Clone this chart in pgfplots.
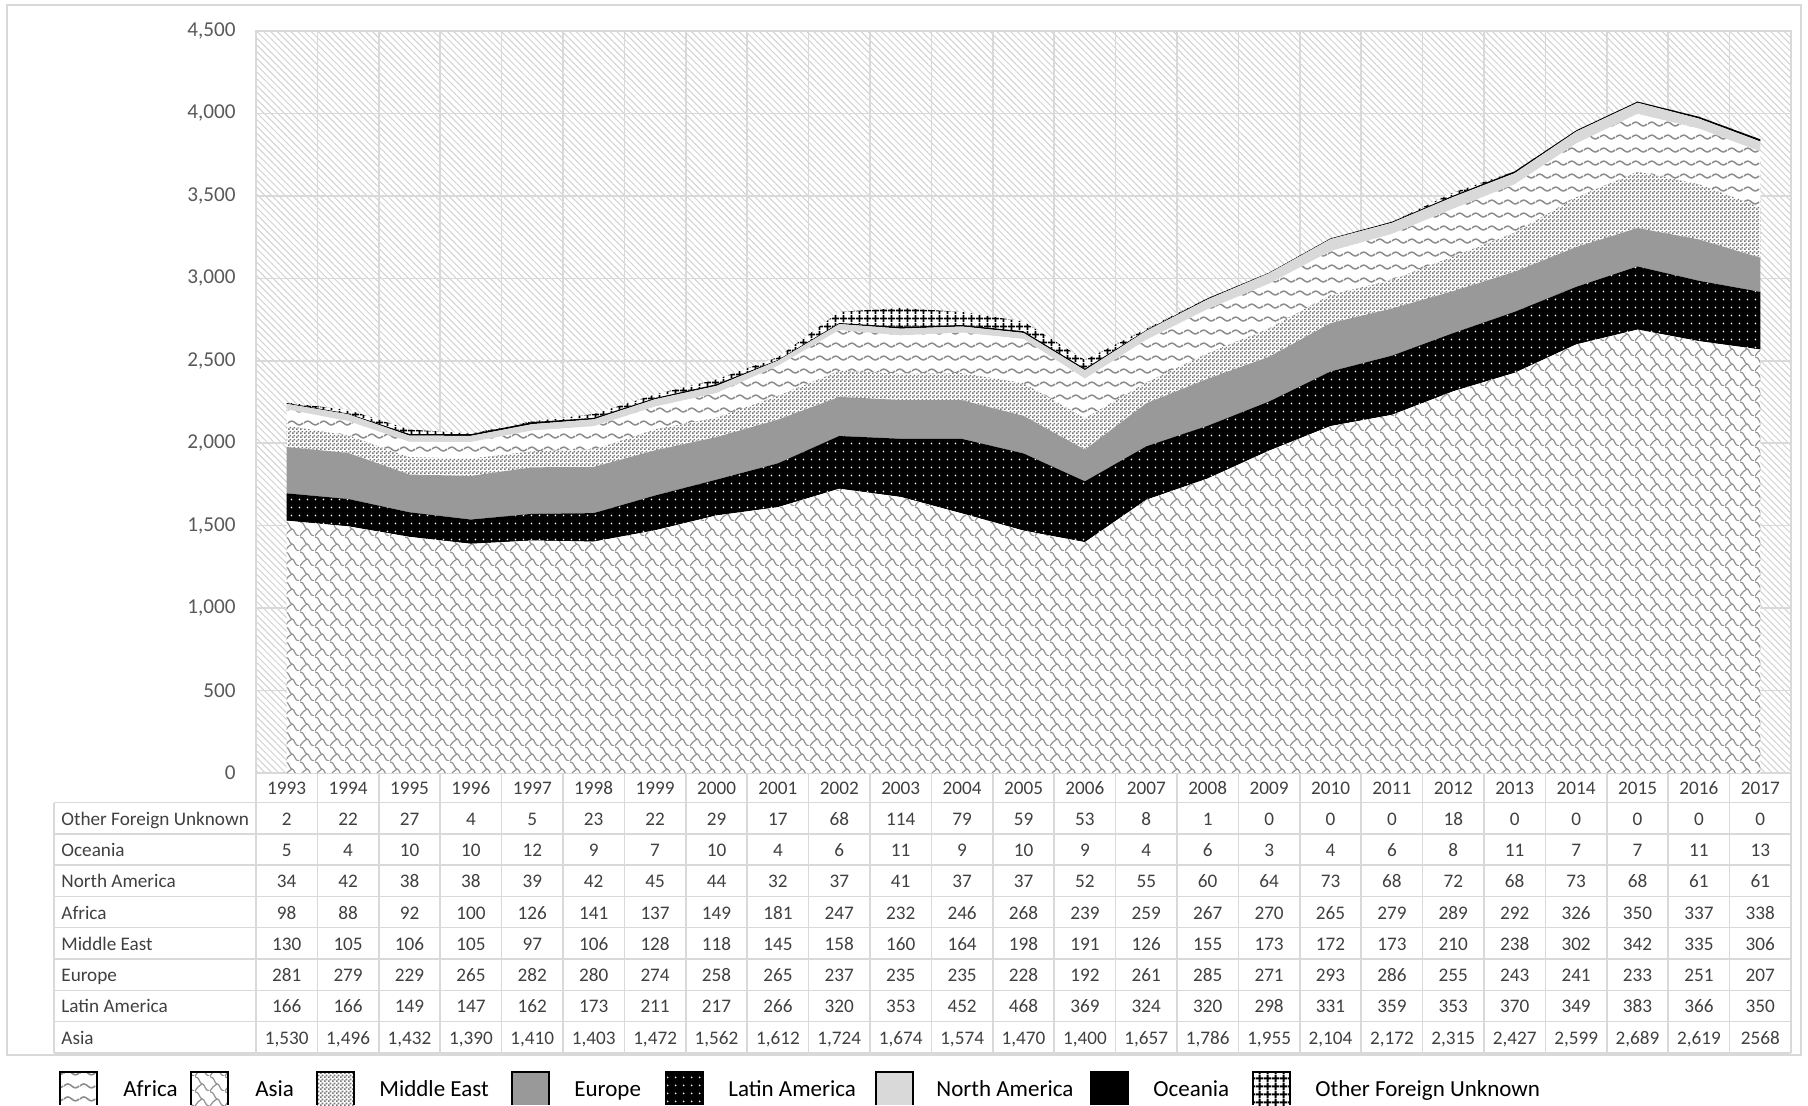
\documentclass[border=0pt]{standalone}
\usepackage{fontspec}
\setmainfont{Carlito}
\usepackage{pgfplots}
\usepackage{pgfplotstable}
\pgfplotsset{compat=1.18}
\usetikzlibrary{patterns,patterns.meta}

\definecolor{gridgray}{HTML}{D9D9D9}
\definecolor{tickgray}{HTML}{595959}
\definecolor{textgray}{HTML}{404040}
\definecolor{hatchgray}{HTML}{D2D2D2}

% Arrivals by region of origin, 1993-2017
\pgfplotstableread{
year Asia LatAm Europe MidEast Africa NorthAm Oceania Other
1993 1530 166 281 130  98 34  5   2
1994 1496 166 279 105  88 42  4  22
1995 1432 149 229 106  92 38 10  27
1996 1390 147 265 105 100 38 10   4
1997 1410 162 282  97 126 39 12   5
1998 1403 173 280 106 141 42  9  23
1999 1472 211 274 128 137 45  7  22
2000 1562 217 258 118 149 44 10  29
2001 1612 266 265 145 181 32  4  17
2002 1724 320 237 158 247 37  6  68
2003 1674 353 235 160 232 41 11 114
2004 1574 452 235 164 246 37  9  79
2005 1470 468 228 198 268 37 10  59
2006 1400 369 192 191 239 52  9  53
2007 1657 324 261 126 259 55  4   8
2008 1786 320 285 155 267 60  6   1
2009 1955 298 271 173 270 64  3   0
2010 2104 331 293 172 265 73  4   0
2011 2172 359 286 173 279 68  6   0
2012 2315 353 255 210 289 72  8  18
2013 2427 370 243 238 292 68 11   0
2014 2599 349 241 302 326 73  7   0
2015 2689 383 233 342 350 68  7   0
2016 2619 366 251 335 337 61 11   0
2017 2568 350 207 306 338 61 13   0
}\arrivals

% Fill patterns
\tikzdeclarepattern{
  name=shingle, type=uncolored,
  bounding box={(0,0) and (7.5pt,7.5pt)},
  tile size={(7.5pt,7.5pt)},
  code={
    \draw[line width=0.65pt] (0,7.5pt) .. controls (2.5pt,7.5pt) and (2.2pt,3.75pt) .. (3.75pt,3.75pt)
      .. controls (5.3pt,3.75pt) and (5pt,0pt) .. (7.5pt,0pt);
    \draw[line width=0.65pt] (0,0) .. controls (1.2pt,1.8pt) and (2.2pt,3pt) .. (3.75pt,3.75pt);
  }
}
\tikzdeclarepattern{
  name=wave, type=uncolored,
  bounding box={(0,0) and (8pt,6.25pt)},
  tile size={(8pt,6.25pt)},
  code={
    \draw[line width=0.8pt] (0,3.1pt) sin (2pt,4.1pt) cos (4pt,3.1pt) sin (6pt,2.1pt) cos (8pt,3.1pt);
  }
}
\tikzdeclarepattern{
  name=checker, type=uncolored,
  bounding box={(0,0) and (2pt,2pt)},
  tile size={(2pt,2pt)},
  code={
    \fill (0,0) rectangle (1pt,1pt);
    \fill (1pt,1pt) rectangle (2pt,2pt);
  }
}
\tikzdeclarepattern{
  name=dotgrid, type=uncolored,
  bounding box={(0,0) and (4pt,3.75pt)},
  tile size={(4pt,3.75pt)},
  code={
    \fill (2pt,1.875pt) circle (0.5pt);
  }
}
\tikzdeclarepattern{
  name=biggrid, type=uncolored,
  bounding box={(0,0) and (4pt,4pt)},
  tile size={(4pt,4pt)},
  code={
    \draw[line width=1pt] (0,2pt) -- (4pt,2pt);
    \draw[line width=1pt] (2pt,0) -- (2pt,4pt);
  }
}

\tikzset{
  asia fill/.style={fill=white, postaction={pattern=shingle, pattern color=gray!85}},
  latam fill/.style={fill=black, postaction={pattern=dotgrid, pattern color=white}},
  europe fill/.style={fill=gray!80},
  mideast fill/.style={fill=white, postaction={pattern=checker, pattern color=black!55}},
  africa fill/.style={fill=white, postaction={pattern=wave, pattern color=gray!90}},
  northam fill/.style={fill=gray!30},
  oceania fill/.style={fill=black},
  other fill/.style={fill=white, postaction={pattern=biggrid, pattern color=black}},
}

\begin{document}
\begin{tikzpicture}
\useasboundingbox (0pt,0pt) rectangle (904pt,-552.5pt);
\begin{scope}[x=0.5pt,y=-0.5pt]
  \draw[gridgray, line width=0.75pt] (7,5) rectangle (1801,1055);
\end{scope}

\begin{axis}[
  at={(128pt,-386.5pt)}, anchor=south west,
  width=767.5pt, height=371pt, scale only axis,
  xmin=-0.5, xmax=24.5, ymin=0, ymax=4500,
  xtick={-0.5,0.5,...,24.5}, xticklabels={},
  ytick={0,500,...,4500},
  grid=major,
  major grid style={gridgray, line width=0.75pt},
  axis line style={gridgray, line width=0.75pt},
  major tick length=0pt,
  tick label style={font=\fontsize{10.6}{12.5}\selectfont, text=tickgray},
  yticklabel style={anchor=east, inner sep=0pt, xshift=-10pt},
  /pgf/number format/1000 sep={,},
  /pgf/number format/assume math mode=true,
  axis background/.style={fill=white,
    postaction={pattern={Lines[angle=-45, distance=2.4pt, line width=0.5pt]}, pattern color=hatchgray}},
  stack plots=y,
]
\addplot[draw=none, asia fill]    table[x expr=\coordindex, y=Asia]{\arrivals} \closedcycle;
\addplot[draw=none, latam fill]   table[x expr=\coordindex, y=LatAm]{\arrivals} \closedcycle;
\addplot[draw=none, europe fill]  table[x expr=\coordindex, y=Europe]{\arrivals} \closedcycle;
\addplot[draw=none, mideast fill] table[x expr=\coordindex, y=MidEast]{\arrivals} \closedcycle;
\addplot[draw=none, africa fill]  table[x expr=\coordindex, y=Africa]{\arrivals} \closedcycle;
\addplot[draw=none, northam fill] table[x expr=\coordindex, y=NorthAm]{\arrivals} \closedcycle;
\addplot[draw=none, oceania fill] table[x expr=\coordindex, y=Oceania]{\arrivals} \closedcycle;
\addplot[draw=none, other fill]   table[x expr=\coordindex, y=Other]{\arrivals} \closedcycle;
\end{axis}

\begin{scope}[x=0.5pt,y=-0.5pt]
  % data table grid
  \foreach \k in {0,...,25}
    \draw[gridgray, line width=0.75pt] ({256+61.4*\k},773) -- ({256+61.4*\k},1053);
  \draw[gridgray, line width=0.75pt] (54,802.5) -- (54,1053);
  \foreach \r in {0,...,8}
    \draw[gridgray, line width=0.75pt] (54,{802.5+31.3*\r}) -- (1791,{802.5+31.3*\r});

  % year header
  \foreach \i in {0,...,24} {
    \pgfplotstablegetelem{\i}{year}\of\arrivals
    \node[anchor=base, inner sep=0pt, text=textgray, font=\fontsize{9.6}{11.5}\selectfont]
      at ({256+61.4*(\i+0.5)},794.5) {\pgfplotsretval};
  }

  % rows of values
  \foreach \col/\lab [count=\r from 0] in {Other/Other Foreign Unknown, Oceania/Oceania,
      NorthAm/North America, Africa/Africa, MidEast/Middle East, Europe/Europe,
      LatAm/Latin America, Asia/Asia} {
    \node[anchor=base west, inner sep=0pt, text=textgray, font=\fontsize{9.6}{11.5}\selectfont]
      at (61,{802.5+31.3*(\r+0.5)+7}) {\lab};
    \foreach \i in {0,...,24} {
      \pgfplotstablegetelem{\i}{\col}\of\arrivals
      \ifnum\r=7 \ifnum\i=24
        \pgfkeys{/pgf/number format/1000 sep={}}
      \fi\fi
      \node[anchor=base, inner sep=0pt, text=textgray, font=\fontsize{9.6}{11.5}\selectfont]
        at ({256+61.4*(\i+0.5)},{802.5+31.3*(\r+0.5)+7})
        {\pgfmathprintnumber[assume math mode=true]{\pgfplotsretval}};
    }
  }

  % legend
  \foreach \bx/\tx/\sty/\lab in {
      60/123/africa fill/Africa,
      191/255/asia fill/Asia,
      317/379/mideast fill/Middle East,
      512/574/europe fill/Europe,
      666/728/latam fill/Latin America,
      876/936/northam fill/North America,
      1091/1153/oceania fill/Oceania,
      1253/1315/other fill/Other Foreign Unknown} {
    \path[\sty] (\bx,1072) rectangle ({\bx+37},1105);
    \draw[black, line width=0.75pt] (\bx,1105) -- (\bx,1072) -- ({\bx+37},1072) -- ({\bx+37},1105);
    \node[anchor=base west, inner sep=0pt, font=\fontsize{11.5}{13.8}\selectfont]
      at (\tx,1096) {\lab};
  }
\end{scope}
\end{tikzpicture}
\end{document}
